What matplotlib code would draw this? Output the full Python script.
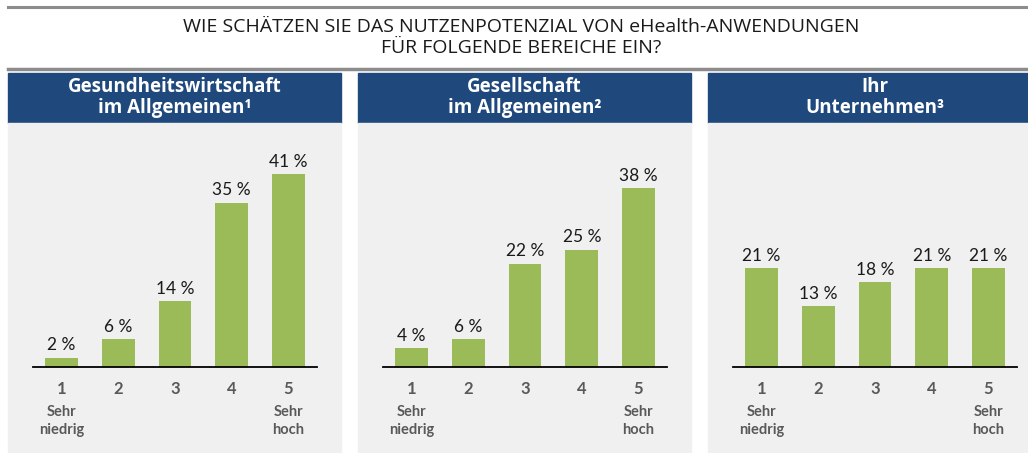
import matplotlib.pyplot as plt
from matplotlib.patches import Rectangle

plt.rcParams['font.family'] = ['Lato', 'DejaVu Sans']

title = "WIE SCHÄTZEN SIE DAS NUTZENPOTENZIAL VON eHealth-ANWENDUNGEN\nFÜR FOLGENDE BEREICHE EIN?"
headers = ["Gesundheitswirtschaft\nim Allgemeinen¹",
           "Gesellschaft\nim Allgemeinen²",
           "Ihr\nUnternehmen³"]
categories = ["1", "2", "3", "4", "5"]
sub_labels = ["Sehr\nniedrig", "", "", "", "Sehr\nhoch"]
werte_gesundheit = [2, 6, 14, 35, 41]
werte_gesellschaft = [4, 6, 22, 25, 38]
werte_unternehmen = [21, 13, 18, 21, 21]
series = [werte_gesundheit, werte_gesellschaft, werte_unternehmen]

W, H = 1028, 453
fig = plt.figure(figsize=(W / 100, H / 100), dpi=100)
fig.patch.set_facecolor('white')

def fx(px):
    return px / W

def fy(py):
    return 1 - py / H

wide = ['Open Sans', 'DejaVu Sans']

# grey rules
fig.add_artist(plt.Line2D([fx(8), 1], [fy(6.5), fy(6.5)], color='#8c8c8c', lw=2.2))
fig.add_artist(plt.Line2D([fx(8), 1], [fy(69), fy(69)], color='#8c8c8c', lw=2.5))
fig.text(fx(521), fy(37.5), title, ha='center', va='center', fontsize=14,
         color='#1a1a1a', linespacing=1.2, family=wide)

panel_left = [8, 358, 708]
panel_w = 333
green = '#9bbb59'
grey_txt = '#595959'
px_per_pct = 4.7
base_y = 367

for i in range(3):
    left = panel_left[i]
    # header and grey background
    fig.add_artist(Rectangle((fx(left), fy(123)), fx(panel_w), fy(73) - fy(123),
                             transform=fig.transFigure, color='#1f497d', zorder=0))
    fig.add_artist(Rectangle((fx(left), fy(453)), fx(panel_w), fy(123) - fy(453),
                             transform=fig.transFigure, color='#f0f0f0', zorder=0))
    fig.text(fx(left + panel_w / 2), fy(97.5), headers[i], ha='center', va='center',
             color='white', fontsize=13.5, fontweight='bold', linespacing=1.05,
             family=wide)

    ax_h = base_y - 123
    ax = fig.add_axes([fx(left + 25), fy(base_y), fx(284), ax_h / H])
    ax.patch.set_alpha(0)
    vals = series[i]
    x = range(len(categories))
    bars = ax.bar(x, vals, width=0.58, color=green)
    ax.set_xlim(-0.5, 4.5)
    ax.set_ylim(0, ax_h / px_per_pct)
    for b, v in zip(bars, vals):
        ax.annotate(f"{v} %", (b.get_x() + b.get_width() / 2, v),
                    xytext=(0, 3), textcoords='offset points',
                    ha='center', va='bottom', fontsize=12.5, color='#1a1a1a')
    for s in ['top', 'left', 'right']:
        ax.spines[s].set_visible(False)
    ax.spines['bottom'].set_linewidth(1.3)
    ax.set_yticks([])
    ax.set_xticks(list(x), categories, fontsize=12, fontweight='bold', color=grey_txt)
    ax.tick_params(axis='x', length=0, pad=10)
    for xi, s in zip(x, sub_labels):
        if s:
            ax.annotate(s, (xi, 0), xytext=(0, -27), textcoords='offset points',
                        ha='center', va='top', fontsize=10.5, fontweight='bold',
                        color=grey_txt, linespacing=1.45)

fig.savefig('out.png', dpi=100)
